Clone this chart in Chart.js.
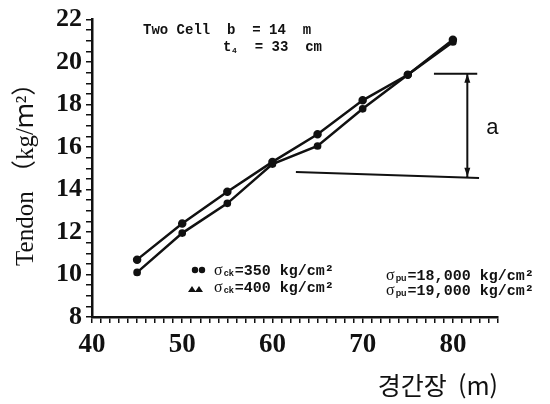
<!DOCTYPE html>
<html lang="ko">
<head>
<meta charset="UTF-8">
<title>Tendon vs span length</title>
<script src="https://cdn.jsdelivr.net/npm/chart.js"></script>
<style>
  html, body { margin: 0; padding: 0; background: #fff; }
  #wrap { width: 550px; height: 404px; position: relative; }
</style>
</head>
<body>
<div id="wrap"><canvas id="chart"></canvas></div>
<script>
// data
const spans = [45, 50, 55, 60, 65, 70, 75, 80];
const tendon350 = [10.7, 12.4, 13.9, 15.3, 16.6, 18.2, 19.4, 21.05];
const tendon400 = [10.1, 11.95, 13.35, 15.2, 16.05, 17.8, 19.4, 20.95];
const xTickLabels = [40, 50, 60, 70, 80];
const yTickLabels = [8, 10, 12, 14, 16, 18, 20, 22];
const ckLabels = ['=350 kg/cm²', '=400 kg/cm²'];
const puLabels = ['=18,000 kg/cm²', '=19,000 kg/cm²'];

const INK = '#111';

// "a" dimension marker, in data units
const dimTop = [{x: 77.9, y: 19.45}, {x: 82.7, y: 19.45}];
const dimBottom = [{x: 62.6, y: 14.82}, {x: 82.9, y: 14.54}];
const dimX = 81.6;

function toPoints(ys) {
  return spans.map((x, i) => ({x: x, y: ys[i]}));
}

// sigma with small subscript, then the rest of the text
function sigmaText(ctx, x, y, sub, rest) {
  ctx.font = '16px "Liberation Serif"';
  ctx.fillText('σ', x, y);
  let w = ctx.measureText('σ').width + 1;
  ctx.font = 'bold 9px "Liberation Sans"';
  ctx.fillText(sub, x + w, y + 1);
  w += ctx.measureText(sub).width + 1;
  ctx.font = 'bold 15px "Liberation Mono"';
  ctx.fillText(rest, x + w, y);
}

const notes = {
  id: 'notes',
  afterDatasetsDraw(chart) {
    const {ctx, scales: {x, y}} = chart;
    ctx.save();
    ctx.strokeStyle = INK;
    ctx.fillStyle = INK;
    ctx.lineWidth = 2;

    // dimension lines
    ctx.beginPath();
    ctx.moveTo(x.getPixelForValue(dimTop[0].x), y.getPixelForValue(dimTop[0].y));
    ctx.lineTo(x.getPixelForValue(dimTop[1].x), y.getPixelForValue(dimTop[1].y));
    ctx.moveTo(x.getPixelForValue(dimBottom[0].x), y.getPixelForValue(dimBottom[0].y));
    ctx.lineTo(x.getPixelForValue(dimBottom[1].x), y.getPixelForValue(dimBottom[1].y));
    const ax = x.getPixelForValue(dimX);
    const ay1 = y.getPixelForValue(dimTop[0].y);
    const ay2 = y.getPixelForValue(14.6);
    ctx.moveTo(ax, ay1);
    ctx.lineTo(ax, ay2);
    ctx.stroke();
    // arrow heads
    ctx.beginPath();
    ctx.moveTo(ax, ay1); ctx.lineTo(ax - 3, ay1 + 9); ctx.lineTo(ax + 3, ay1 + 9); ctx.closePath();
    ctx.moveTo(ax, ay2); ctx.lineTo(ax - 3, ay2 - 9); ctx.lineTo(ax + 3, ay2 - 9); ctx.closePath();
    ctx.fill();

    ctx.font = '22px "Liberation Sans"';
    ctx.textBaseline = 'middle';
    ctx.fillText('a', x.getPixelForValue(83.7), y.getPixelForValue(16.9));

    // header text
    ctx.textBaseline = 'alphabetic';
    ctx.font = 'bold 14px "Liberation Mono"';
    ctx.fillText('Two Cell  b  = 14  m', 143, 34);
    ctx.fillText('t', 223, 51);
    ctx.font = 'bold 8px "Liberation Mono"';
    ctx.fillText('4', 232, 53);
    ctx.font = 'bold 14px "Liberation Mono"';
    ctx.fillText('  = 33  cm', 238, 51);

    // legend marks
    ctx.beginPath();
    ctx.arc(195, 270, 3.2, 0, Math.PI * 2);
    ctx.arc(202, 270, 3.2, 0, Math.PI * 2);
    ctx.fill();
    ctx.beginPath();
    ctx.moveTo(188, 292); ctx.lineTo(192, 286); ctx.lineTo(196, 292); ctx.closePath();
    ctx.moveTo(195, 292); ctx.lineTo(199, 286); ctx.lineTo(203, 292); ctx.closePath();
    ctx.fill();

    sigmaText(ctx, 214, 275, 'ck', ckLabels[0]);
    sigmaText(ctx, 214, 292, 'ck', ckLabels[1]);
    sigmaText(ctx, 386, 280, 'pu', puLabels[0]);
    sigmaText(ctx, 386, 295, 'pu', puLabels[1]);
    ctx.restore();
  }
};

new Chart(document.getElementById('chart'), {
  type: 'line',
  data: {
    datasets: [
      {
        label: 'σck=350',
        data: toPoints(tendon350),
        borderColor: INK,
        backgroundColor: INK,
        borderWidth: 2.5,
        pointStyle: 'circle',
        pointRadius: 3,
        tension: 0
      },
      {
        label: 'σck=400',
        data: toPoints(tendon400),
        borderColor: INK,
        backgroundColor: INK,
        borderWidth: 2.5,
        pointStyle: 'circle',
        pointRadius: 2.6,
        tension: 0
      }
    ]
  },
  options: {
    responsive: true,
    maintainAspectRatio: false,
    animation: false,
    layout: { padding: { left: 0, right: 52, top: 15, bottom: 0 } },
    plugins: {
      legend: { display: false },
      tooltip: { enabled: false }
    },
    scales: {
      x: {
        type: 'linear',
        min: 40,
        max: 85,
        afterFit(s) { s.height = 87; },
        border: { display: true, color: INK, width: 2.5 },
        grid: { drawOnChartArea: false, color: INK, lineWidth: 1.5, tickLength: 6 },
        ticks: {
          stepSize: 1,
          autoSkip: false,
          maxRotation: 0,
          padding: 6,
          color: INK,
          font: { family: '"Liberation Serif"', size: 27, weight: 'bold' },
          callback: v => xTickLabels.includes(v) ? String(v) : ''
        },
        title: {
          display: true,
          text: '경간장  (m)',
          align: 'end',
          color: INK,
          font: { family: '"Noto Sans CJK KR"', size: 25 },
          padding: { top: 0, bottom: 4 }
        }
      },
      y: {
        type: 'linear',
        min: 8,
        max: 22,
        afterFit(s) { s.width = 92; },
        border: { display: true, color: INK, width: 2.5 },
        grid: { drawOnChartArea: false, color: INK, lineWidth: 1.5, tickLength: 6 },
        ticks: {
          stepSize: 0.5,
          autoSkip: false,
          padding: 4,
          color: INK,
          font: { family: '"Liberation Serif"', size: 26, weight: 'bold' },
          callback: v => yTickLabels.includes(v) ? String(v) : ''
        },
        title: {
          display: true,
          text: 'Tendon （kg/ｍ²）',
          color: INK,
          font: { family: '"Liberation Serif", "Noto Sans CJK KR"', size: 25 },
          padding: { top: 11, bottom: 0 }
        }
      }
    }
  },
  plugins: [notes]
});
</script>
</body>
</html>
